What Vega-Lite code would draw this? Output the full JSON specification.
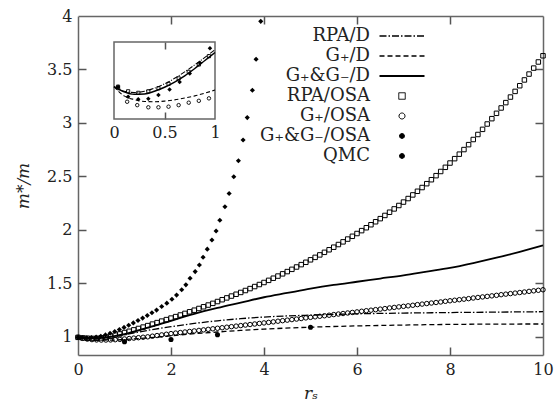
{
  "$schema": "https://vega.github.io/schema/vega-lite/v6.json",
  "width": 465,
  "height": 339,
  "autosize": "none",
  "padding": {"left": 78, "top": 16, "right": 13, "bottom": 54},
  "background": "white",
  "config": {
    "font": "DejaVu Serif",
    "view": {"stroke": null},
    "axis": {
      "domainColor": "#666", "domainWidth": 1.5, "labelFont": "DejaVu Serif", "labelFontSize": 16, "labelColor": "#222",
      "titleFont": "DejaVu Serif", "titleFontSize": 17, "titleFontStyle": "italic", "titleFontWeight": "normal",
      "titleColor": "#222", "grid": false, "labelOverlap": false, "labelFlush": false
    }
  },
  "datasets": {
    "main": [
      {"series":"RPA/D","rs":0,"m":0.995},{"series":"RPA/D","rs":0.25,"m":0.985},{"series":"RPA/D","rs":0.5,"m":0.99},{"series":"RPA/D","rs":0.75,"m":1.003},{"series":"RPA/D","rs":1,"m":1.02},{"series":"RPA/D","rs":1.5,"m":1.06},{"series":"RPA/D","rs":2,"m":1.095},{"series":"RPA/D","rs":2.5,"m":1.125},{"series":"RPA/D","rs":3,"m":1.15},{"series":"RPA/D","rs":3.5,"m":1.17},{"series":"RPA/D","rs":4,"m":1.185},{"series":"RPA/D","rs":5,"m":1.203},{"series":"RPA/D","rs":6,"m":1.215},{"series":"RPA/D","rs":7,"m":1.222},{"series":"RPA/D","rs":8,"m":1.227},{"series":"RPA/D","rs":9,"m":1.231},{"series":"RPA/D","rs":10,"m":1.235},
      {"series":"G₊/D","rs":0,"m":0.995},{"series":"G₊/D","rs":0.25,"m":0.978},{"series":"G₊/D","rs":0.5,"m":0.97},{"series":"G₊/D","rs":0.75,"m":0.969},{"series":"G₊/D","rs":1,"m":0.975},{"series":"G₊/D","rs":1.5,"m":0.99},{"series":"G₊/D","rs":2,"m":1.01},{"series":"G₊/D","rs":2.5,"m":1.03},{"series":"G₊/D","rs":3,"m":1.045},{"series":"G₊/D","rs":3.5,"m":1.06},{"series":"G₊/D","rs":4,"m":1.072},{"series":"G₊/D","rs":5,"m":1.09},{"series":"G₊/D","rs":6,"m":1.102},{"series":"G₊/D","rs":7,"m":1.11},{"series":"G₊/D","rs":8,"m":1.116},{"series":"G₊/D","rs":9,"m":1.119},{"series":"G₊/D","rs":10,"m":1.12},
      {"series":"G₊&G₋/D","rs":0,"m":0.995},{"series":"G₊&G₋/D","rs":0.25,"m":0.985},{"series":"G₊&G₋/D","rs":0.5,"m":0.99},{"series":"G₊&G₋/D","rs":0.75,"m":1.005},{"series":"G₊&G₋/D","rs":1,"m":1.025},{"series":"G₊&G₋/D","rs":1.5,"m":1.085},{"series":"G₊&G₋/D","rs":2,"m":1.15},{"series":"G₊&G₋/D","rs":2.5,"m":1.215},{"series":"G₊&G₋/D","rs":3,"m":1.27},{"series":"G₊&G₋/D","rs":3.5,"m":1.32},{"series":"G₊&G₋/D","rs":4,"m":1.37},{"series":"G₊&G₋/D","rs":4.5,"m":1.41},{"series":"G₊&G₋/D","rs":5,"m":1.45},{"series":"G₊&G₋/D","rs":5.5,"m":1.485},{"series":"G₊&G₋/D","rs":6,"m":1.515},{"series":"G₊&G₋/D","rs":6.5,"m":1.545},{"series":"G₊&G₋/D","rs":7,"m":1.575},{"series":"G₊&G₋/D","rs":7.5,"m":1.61},{"series":"G₊&G₋/D","rs":8,"m":1.645},{"series":"G₊&G₋/D","rs":8.5,"m":1.69},{"series":"G₊&G₋/D","rs":9,"m":1.74},{"series":"G₊&G₋/D","rs":9.5,"m":1.795},{"series":"G₊&G₋/D","rs":10,"m":1.855},
      {"series":"RPA/OSA","rs":0,"m":0.995},{"series":"RPA/OSA","rs":0.1,"m":0.99},{"series":"RPA/OSA","rs":0.2,"m":0.987},{"series":"RPA/OSA","rs":0.3,"m":0.985},{"series":"RPA/OSA","rs":0.4,"m":0.986},{"series":"RPA/OSA","rs":0.5,"m":0.99},{"series":"RPA/OSA","rs":0.6,"m":0.997},{"series":"RPA/OSA","rs":0.7,"m":1.006},{"series":"RPA/OSA","rs":0.8,"m":1.016},{"series":"RPA/OSA","rs":0.9,"m":1.027},
      {"series":"RPA/OSA","rs":1,"m":1.04},{"series":"RPA/OSA","rs":1.1,"m":1.052},{"series":"RPA/OSA","rs":1.2,"m":1.065},{"series":"RPA/OSA","rs":1.3,"m":1.078},{"series":"RPA/OSA","rs":1.4,"m":1.091},{"series":"RPA/OSA","rs":1.5,"m":1.105},{"series":"RPA/OSA","rs":1.6,"m":1.119},{"series":"RPA/OSA","rs":1.7,"m":1.133},{"series":"RPA/OSA","rs":1.8,"m":1.147},{"series":"RPA/OSA","rs":1.9,"m":1.161},
      {"series":"RPA/OSA","rs":2,"m":1.175},{"series":"RPA/OSA","rs":2.1,"m":1.189},{"series":"RPA/OSA","rs":2.2,"m":1.204},{"series":"RPA/OSA","rs":2.3,"m":1.219},{"series":"RPA/OSA","rs":2.4,"m":1.234},{"series":"RPA/OSA","rs":2.5,"m":1.249},{"series":"RPA/OSA","rs":2.6,"m":1.265},{"series":"RPA/OSA","rs":2.7,"m":1.281},{"series":"RPA/OSA","rs":2.8,"m":1.297},{"series":"RPA/OSA","rs":2.9,"m":1.313},
      {"series":"RPA/OSA","rs":3,"m":1.33},{"series":"RPA/OSA","rs":3.1,"m":1.347},{"series":"RPA/OSA","rs":3.2,"m":1.364},{"series":"RPA/OSA","rs":3.3,"m":1.381},{"series":"RPA/OSA","rs":3.4,"m":1.398},{"series":"RPA/OSA","rs":3.5,"m":1.415},{"series":"RPA/OSA","rs":3.6,"m":1.433},{"series":"RPA/OSA","rs":3.7,"m":1.451},{"series":"RPA/OSA","rs":3.8,"m":1.47},{"series":"RPA/OSA","rs":3.9,"m":1.489},
      {"series":"RPA/OSA","rs":4,"m":1.508},{"series":"RPA/OSA","rs":4.1,"m":1.528},{"series":"RPA/OSA","rs":4.2,"m":1.548},{"series":"RPA/OSA","rs":4.3,"m":1.568},{"series":"RPA/OSA","rs":4.4,"m":1.589},{"series":"RPA/OSA","rs":4.5,"m":1.61},{"series":"RPA/OSA","rs":4.6,"m":1.631},{"series":"RPA/OSA","rs":4.7,"m":1.653},{"series":"RPA/OSA","rs":4.8,"m":1.675},{"series":"RPA/OSA","rs":4.9,"m":1.697},
      {"series":"RPA/OSA","rs":5,"m":1.72},{"series":"RPA/OSA","rs":5.1,"m":1.743},{"series":"RPA/OSA","rs":5.2,"m":1.766},{"series":"RPA/OSA","rs":5.3,"m":1.79},{"series":"RPA/OSA","rs":5.4,"m":1.814},{"series":"RPA/OSA","rs":5.5,"m":1.838},{"series":"RPA/OSA","rs":5.6,"m":1.863},{"series":"RPA/OSA","rs":5.7,"m":1.888},{"series":"RPA/OSA","rs":5.8,"m":1.914},{"series":"RPA/OSA","rs":5.9,"m":1.94},
      {"series":"RPA/OSA","rs":6,"m":1.966},{"series":"RPA/OSA","rs":6.1,"m":1.993},{"series":"RPA/OSA","rs":6.2,"m":2.02},{"series":"RPA/OSA","rs":6.3,"m":2.048},{"series":"RPA/OSA","rs":6.4,"m":2.076},{"series":"RPA/OSA","rs":6.5,"m":2.105},{"series":"RPA/OSA","rs":6.6,"m":2.135},{"series":"RPA/OSA","rs":6.7,"m":2.165},{"series":"RPA/OSA","rs":6.8,"m":2.196},{"series":"RPA/OSA","rs":6.9,"m":2.228},
      {"series":"RPA/OSA","rs":7,"m":2.26},{"series":"RPA/OSA","rs":7.1,"m":2.293},{"series":"RPA/OSA","rs":7.2,"m":2.327},{"series":"RPA/OSA","rs":7.3,"m":2.361},{"series":"RPA/OSA","rs":7.4,"m":2.396},{"series":"RPA/OSA","rs":7.5,"m":2.432},{"series":"RPA/OSA","rs":7.6,"m":2.469},{"series":"RPA/OSA","rs":7.7,"m":2.507},{"series":"RPA/OSA","rs":7.8,"m":2.546},{"series":"RPA/OSA","rs":7.9,"m":2.585},
      {"series":"RPA/OSA","rs":8,"m":2.625},{"series":"RPA/OSA","rs":8.1,"m":2.666},{"series":"RPA/OSA","rs":8.2,"m":2.708},{"series":"RPA/OSA","rs":8.3,"m":2.751},{"series":"RPA/OSA","rs":8.4,"m":2.797},{"series":"RPA/OSA","rs":8.5,"m":2.845},{"series":"RPA/OSA","rs":8.6,"m":2.892},{"series":"RPA/OSA","rs":8.7,"m":2.94},{"series":"RPA/OSA","rs":8.8,"m":2.99},{"series":"RPA/OSA","rs":8.9,"m":3.04},
      {"series":"RPA/OSA","rs":9,"m":3.09},{"series":"RPA/OSA","rs":9.1,"m":3.14},{"series":"RPA/OSA","rs":9.2,"m":3.19},{"series":"RPA/OSA","rs":9.3,"m":3.242},{"series":"RPA/OSA","rs":9.4,"m":3.295},{"series":"RPA/OSA","rs":9.5,"m":3.348},{"series":"RPA/OSA","rs":9.6,"m":3.402},{"series":"RPA/OSA","rs":9.7,"m":3.457},{"series":"RPA/OSA","rs":9.8,"m":3.513},{"series":"RPA/OSA","rs":9.9,"m":3.57},{"series":"RPA/OSA","rs":10,"m":3.628},
      {"series":"G₊/OSA","rs":0,"m":0.995},{"series":"G₊/OSA","rs":0.1,"m":0.986},{"series":"G₊/OSA","rs":0.2,"m":0.979},{"series":"G₊/OSA","rs":0.3,"m":0.974},{"series":"G₊/OSA","rs":0.4,"m":0.971},{"series":"G₊/OSA","rs":0.5,"m":0.97},{"series":"G₊/OSA","rs":0.6,"m":0.97},{"series":"G₊/OSA","rs":0.7,"m":0.971},{"series":"G₊/OSA","rs":0.8,"m":0.973},{"series":"G₊/OSA","rs":0.9,"m":0.976},
      {"series":"G₊/OSA","rs":1,"m":0.98},{"series":"G₊/OSA","rs":1.1,"m":0.984},{"series":"G₊/OSA","rs":1.2,"m":0.988},{"series":"G₊/OSA","rs":1.3,"m":0.992},{"series":"G₊/OSA","rs":1.4,"m":0.996},{"series":"G₊/OSA","rs":1.5,"m":1.0},{"series":"G₊/OSA","rs":1.6,"m":1.006},{"series":"G₊/OSA","rs":1.7,"m":1.012},{"series":"G₊/OSA","rs":1.8,"m":1.018},{"series":"G₊/OSA","rs":1.9,"m":1.024},
      {"series":"G₊/OSA","rs":2,"m":1.03},{"series":"G₊/OSA","rs":2.1,"m":1.035},{"series":"G₊/OSA","rs":2.2,"m":1.04},{"series":"G₊/OSA","rs":2.3,"m":1.045},{"series":"G₊/OSA","rs":2.4,"m":1.05},{"series":"G₊/OSA","rs":2.5,"m":1.055},{"series":"G₊/OSA","rs":2.6,"m":1.06},{"series":"G₊/OSA","rs":2.7,"m":1.065},{"series":"G₊/OSA","rs":2.8,"m":1.07},{"series":"G₊/OSA","rs":2.9,"m":1.075},
      {"series":"G₊/OSA","rs":3,"m":1.08},{"series":"G₊/OSA","rs":3.1,"m":1.085},{"series":"G₊/OSA","rs":3.2,"m":1.09},{"series":"G₊/OSA","rs":3.3,"m":1.095},{"series":"G₊/OSA","rs":3.4,"m":1.1},{"series":"G₊/OSA","rs":3.5,"m":1.105},{"series":"G₊/OSA","rs":3.6,"m":1.11},{"series":"G₊/OSA","rs":3.7,"m":1.115},{"series":"G₊/OSA","rs":3.8,"m":1.12},{"series":"G₊/OSA","rs":3.9,"m":1.125},
      {"series":"G₊/OSA","rs":4,"m":1.13},{"series":"G₊/OSA","rs":4.1,"m":1.135},{"series":"G₊/OSA","rs":4.2,"m":1.14},{"series":"G₊/OSA","rs":4.3,"m":1.146},{"series":"G₊/OSA","rs":4.4,"m":1.151},{"series":"G₊/OSA","rs":4.5,"m":1.156},{"series":"G₊/OSA","rs":4.6,"m":1.161},{"series":"G₊/OSA","rs":4.7,"m":1.166},{"series":"G₊/OSA","rs":4.8,"m":1.171},{"series":"G₊/OSA","rs":4.9,"m":1.177},
      {"series":"G₊/OSA","rs":5,"m":1.182},{"series":"G₊/OSA","rs":5.1,"m":1.187},{"series":"G₊/OSA","rs":5.2,"m":1.192},{"series":"G₊/OSA","rs":5.3,"m":1.197},{"series":"G₊/OSA","rs":5.4,"m":1.202},{"series":"G₊/OSA","rs":5.5,"m":1.208},{"series":"G₊/OSA","rs":5.6,"m":1.213},{"series":"G₊/OSA","rs":5.7,"m":1.218},{"series":"G₊/OSA","rs":5.8,"m":1.223},{"series":"G₊/OSA","rs":5.9,"m":1.228},
      {"series":"G₊/OSA","rs":6,"m":1.233},{"series":"G₊/OSA","rs":6.1,"m":1.239},{"series":"G₊/OSA","rs":6.2,"m":1.244},{"series":"G₊/OSA","rs":6.3,"m":1.249},{"series":"G₊/OSA","rs":6.4,"m":1.254},{"series":"G₊/OSA","rs":6.5,"m":1.259},{"series":"G₊/OSA","rs":6.6,"m":1.264},{"series":"G₊/OSA","rs":6.7,"m":1.27},{"series":"G₊/OSA","rs":6.8,"m":1.275},{"series":"G₊/OSA","rs":6.9,"m":1.28},
      {"series":"G₊/OSA","rs":7,"m":1.285},{"series":"G₊/OSA","rs":7.1,"m":1.29},{"series":"G₊/OSA","rs":7.2,"m":1.295},{"series":"G₊/OSA","rs":7.3,"m":1.301},{"series":"G₊/OSA","rs":7.4,"m":1.306},{"series":"G₊/OSA","rs":7.5,"m":1.311},{"series":"G₊/OSA","rs":7.6,"m":1.316},{"series":"G₊/OSA","rs":7.7,"m":1.321},{"series":"G₊/OSA","rs":7.8,"m":1.326},{"series":"G₊/OSA","rs":7.9,"m":1.332},
      {"series":"G₊/OSA","rs":8,"m":1.337},{"series":"G₊/OSA","rs":8.1,"m":1.342},{"series":"G₊/OSA","rs":8.2,"m":1.347},{"series":"G₊/OSA","rs":8.3,"m":1.352},{"series":"G₊/OSA","rs":8.4,"m":1.357},{"series":"G₊/OSA","rs":8.5,"m":1.363},{"series":"G₊/OSA","rs":8.6,"m":1.368},{"series":"G₊/OSA","rs":8.7,"m":1.373},{"series":"G₊/OSA","rs":8.8,"m":1.378},{"series":"G₊/OSA","rs":8.9,"m":1.383},
      {"series":"G₊/OSA","rs":9,"m":1.388},{"series":"G₊/OSA","rs":9.1,"m":1.394},{"series":"G₊/OSA","rs":9.2,"m":1.399},{"series":"G₊/OSA","rs":9.3,"m":1.404},{"series":"G₊/OSA","rs":9.4,"m":1.409},{"series":"G₊/OSA","rs":9.5,"m":1.414},{"series":"G₊/OSA","rs":9.6,"m":1.419},{"series":"G₊/OSA","rs":9.7,"m":1.425},{"series":"G₊/OSA","rs":9.8,"m":1.43},{"series":"G₊/OSA","rs":9.9,"m":1.435},{"series":"G₊/OSA","rs":10,"m":1.44},
      {"series":"G₊&G₋/OSA","rs":0,"m":0.995},{"series":"G₊&G₋/OSA","rs":0.09,"m":0.991},{"series":"G₊&G₋/OSA","rs":0.19,"m":0.99},{"series":"G₊&G₋/OSA","rs":0.29,"m":0.993},{"series":"G₊&G₋/OSA","rs":0.39,"m":0.998},{"series":"G₊&G₋/OSA","rs":0.49,"m":1.006},{"series":"G₊&G₋/OSA","rs":0.59,"m":1.018},{"series":"G₊&G₋/OSA","rs":0.69,"m":1.033},{"series":"G₊&G₋/OSA","rs":0.79,"m":1.05},{"series":"G₊&G₋/OSA","rs":0.89,"m":1.068},
      {"series":"G₊&G₋/OSA","rs":0.99,"m":1.088},{"series":"G₊&G₋/OSA","rs":1.09,"m":1.108},{"series":"G₊&G₋/OSA","rs":1.19,"m":1.13},{"series":"G₊&G₋/OSA","rs":1.29,"m":1.152},{"series":"G₊&G₋/OSA","rs":1.39,"m":1.175},{"series":"G₊&G₋/OSA","rs":1.49,"m":1.2},{"series":"G₊&G₋/OSA","rs":1.59,"m":1.225},{"series":"G₊&G₋/OSA","rs":1.69,"m":1.25},{"series":"G₊&G₋/OSA","rs":1.8,"m":1.283},{"series":"G₊&G₋/OSA","rs":1.91,"m":1.315},
      {"series":"G₊&G₋/OSA","rs":2.02,"m":1.352},{"series":"G₊&G₋/OSA","rs":2.12,"m":1.39},{"series":"G₊&G₋/OSA","rs":2.23,"m":1.44},{"series":"G₊&G₋/OSA","rs":2.32,"m":1.486},{"series":"G₊&G₋/OSA","rs":2.41,"m":1.548},{"series":"G₊&G₋/OSA","rs":2.52,"m":1.61},{"series":"G₊&G₋/OSA","rs":2.61,"m":1.672},{"series":"G₊&G₋/OSA","rs":2.69,"m":1.744},{"series":"G₊&G₋/OSA","rs":2.78,"m":1.82},{"series":"G₊&G₋/OSA","rs":2.88,"m":1.906},
      {"series":"G₊&G₋/OSA","rs":2.97,"m":1.99},{"series":"G₊&G₋/OSA","rs":3.05,"m":2.09},{"series":"G₊&G₋/OSA","rs":3.16,"m":2.216},{"series":"G₊&G₋/OSA","rs":3.25,"m":2.34},{"series":"G₊&G₋/OSA","rs":3.35,"m":2.497},{"series":"G₊&G₋/OSA","rs":3.45,"m":2.646},{"series":"G₊&G₋/OSA","rs":3.55,"m":2.84},{"series":"G₊&G₋/OSA","rs":3.64,"m":3.05},{"series":"G₊&G₋/OSA","rs":3.75,"m":3.306},{"series":"G₊&G₋/OSA","rs":3.83,"m":3.596},{"series":"G₊&G₋/OSA","rs":3.93,"m":3.95},
      {"series":"QMC","rs":1,"m":0.955},{"series":"QMC","rs":2,"m":0.975},{"series":"QMC","rs":3,"m":1.02},{"series":"QMC","rs":5,"m":1.09}
    ],
    "inset": [
      {"series":"RPA/D","rs":0,"m":1.005},{"series":"RPA/D","rs":0.1,"m":0.99},{"series":"RPA/D","rs":0.2,"m":0.986},{"series":"RPA/D","rs":0.3,"m":0.99},{"series":"RPA/D","rs":0.4,"m":1.0},{"series":"RPA/D","rs":0.5,"m":1.014},{"series":"RPA/D","rs":0.6,"m":1.032},{"series":"RPA/D","rs":0.7,"m":1.053},{"series":"RPA/D","rs":0.8,"m":1.076},{"series":"RPA/D","rs":0.9,"m":1.1},{"series":"RPA/D","rs":1,"m":1.125},
      {"series":"G₊/D","rs":0,"m":1.005},{"series":"G₊/D","rs":0.1,"m":0.975},{"series":"G₊/D","rs":0.2,"m":0.963},{"series":"G₊/D","rs":0.3,"m":0.957},{"series":"G₊/D","rs":0.4,"m":0.956},{"series":"G₊/D","rs":0.5,"m":0.958},{"series":"G₊/D","rs":0.6,"m":0.962},{"series":"G₊/D","rs":0.7,"m":0.968},{"series":"G₊/D","rs":0.8,"m":0.975},{"series":"G₊/D","rs":0.9,"m":0.984},{"series":"G₊/D","rs":1,"m":0.994},
      {"series":"G₊&G₋/D","rs":0,"m":1.005},{"series":"G₊&G₋/D","rs":0.1,"m":0.988},{"series":"G₊&G₋/D","rs":0.2,"m":0.98},{"series":"G₊&G₋/D","rs":0.3,"m":0.981},{"series":"G₊&G₋/D","rs":0.4,"m":0.99},{"series":"G₊&G₋/D","rs":0.5,"m":1.003},{"series":"G₊&G₋/D","rs":0.6,"m":1.02},{"series":"G₊&G₋/D","rs":0.7,"m":1.04},{"series":"G₊&G₋/D","rs":0.8,"m":1.064},{"series":"G₊&G₋/D","rs":0.9,"m":1.09},{"series":"G₊&G₋/D","rs":1,"m":1.116},
      {"series":"RPA/OSA","rs":0.04,"m":1.005},{"series":"RPA/OSA","rs":0.14,"m":0.99},{"series":"RPA/OSA","rs":0.24,"m":0.985},{"series":"RPA/OSA","rs":0.34,"m":0.99},{"series":"RPA/OSA","rs":0.44,"m":1.0},{"series":"RPA/OSA","rs":0.54,"m":1.014},{"series":"RPA/OSA","rs":0.64,"m":1.032},{"series":"RPA/OSA","rs":0.74,"m":1.053},{"series":"RPA/OSA","rs":0.84,"m":1.077},{"series":"RPA/OSA","rs":0.94,"m":1.104},
      {"series":"G₊/OSA","rs":0.04,"m":1.0},{"series":"G₊/OSA","rs":0.13,"m":0.956},{"series":"G₊/OSA","rs":0.23,"m":0.945},{"series":"G₊/OSA","rs":0.34,"m":0.938},{"series":"G₊/OSA","rs":0.44,"m":0.938},{"series":"G₊/OSA","rs":0.54,"m":0.94},{"series":"G₊/OSA","rs":0.64,"m":0.945},{"series":"G₊/OSA","rs":0.74,"m":0.953},{"series":"G₊/OSA","rs":0.84,"m":0.959},{"series":"G₊/OSA","rs":0.94,"m":0.967},
      {"series":"G₊&G₋/OSA","rs":0.04,"m":1.005},{"series":"G₊&G₋/OSA","rs":0.14,"m":0.972},{"series":"G₊&G₋/OSA","rs":0.24,"m":0.964},{"series":"G₊&G₋/OSA","rs":0.34,"m":0.966},{"series":"G₊&G₋/OSA","rs":0.44,"m":0.978},{"series":"G₊&G₋/OSA","rs":0.55,"m":0.996},{"series":"G₊&G₋/OSA","rs":0.65,"m":1.02},{"series":"G₊&G₋/OSA","rs":0.75,"m":1.048},{"series":"G₊&G₋/OSA","rs":0.85,"m":1.083},{"series":"G₊&G₋/OSA","rs":0.95,"m":1.13}
    ]
  },
  "layer": [
    {
      "data": {"name": "main"},
      "transform": [{"filter": {"field": "series", "equal": "RPA/D"}}],
      "mark": {"type": "line", "interpolate": "monotone", "strokeWidth": 1.3, "strokeDash": [7, 2, 1.5, 2]},
      "encoding": {
        "x": {"field": "rs", "type": "quantitative", "scale": {"domain": [0, 10], "nice": false, "zero": false},
              "axis": {"orient": "bottom", "title": "rₛ", "values": [0, 2, 4, 6, 8, 10], "format": "d", "tickSize": 6, "tickColor": "#ffffff", "labelPadding": 0, "titlePadding": 8}},
        "y": {"field": "m", "type": "quantitative", "scale": {"domain": [0.83, 4], "nice": false, "zero": false},
              "axis": {"orient": "left", "title": "m*/m", "values": [1, 1.5, 2, 2.5, 3, 3.5, 4], "format": "~g", "tickSize": 6, "tickColor": "#ffffff", "labelPadding": 0, "titlePadding": 14}},
        "color": {"field": "series", "type": "nominal",
          "scale": {"domain": ["RPA/D", "G₊/D", "G₊&G₋/D", "RPA/OSA", "G₊/OSA", "G₊&G₋/OSA", "QMC"], "range": ["#000", "#000", "#000", "#000", "#000", "#000", "#000"]},
          "legend": {
            "orient": "none", "legendX": 292, "legendY": 11, "title": null, "direction": "vertical", "padding": 0,
            "labelFont": "DejaVu Serif", "labelFontSize": 18, "labelColor": "#222", "labelAlign": "right",
            "symbolSize": 25, "symbolStrokeWidth": 1.2, "rowPadding": 2, "labelLimit": 300,
            "encode": {
              "labels": {"update": {"x": {"value": 0}, "align": {"value": "right"}}},
              "symbols": {"update": {
                "x": {"value": 32},
                "shape": {"signal": "datum.index < 3 ? 'M-9,0H9' : (datum.index == 3 ? 'M-9,0M9,0M-1.3,-1.3H1.3V1.3H-1.3Z' : (datum.index == 4 ? 'M-9,0M9,0M-1.2,0A1.2,1.2,0,1,1,1.2,0A1.2,1.2,0,1,1,-1.2,0Z' : 'M-9,0M9,0M-1,0A1,1,0,1,1,1,0A1,1,0,1,1,-1,0Z'))"},
                "size": {"value": 25},
                "strokeDash": {"signal": "datum.index == 0 ? [7,2,1.5,2] : (datum.index == 1 ? [5,3] : [1,0])"},
                "fill": {"signal": "datum.index >= 5 ? '#000' : '#fff'"},
                "fillOpacity": {"signal": "datum.index >= 5 ? 1 : 0"},
                "stroke": {"value": "#000"},
                "strokeWidth": {"signal": "datum.index == 2 ? 2 : (datum.index < 2 ? 1.3 : 1)"}
              }}
            }
          }}
      }
    },
    {
      "data": {"name": "main"},
      "transform": [{"filter": {"field": "series", "equal": "G₊/D"}}],
      "mark": {"type": "line", "interpolate": "monotone", "strokeWidth": 1.3, "strokeDash": [5, 3]},
      "encoding": {
        "x": {"field": "rs", "type": "quantitative", "scale": {"domain": [0, 10], "nice": false, "zero": false},
              "axis": {"orient": "top", "offset": -339, "title": null, "labels": false, "domain": false, "tickSize": 8, "tickColor": "#555", "tickWidth": 1.5, "values": [2, 4, 6, 8]}},
        "y": {"field": "m", "type": "quantitative", "scale": {"domain": [0.83, 4], "nice": false, "zero": false},
              "axis": {"orient": "right", "offset": -465, "title": null, "labels": false, "domain": false, "tickSize": 8, "tickColor": "#555", "tickWidth": 1.5, "values": [1, 1.5, 2, 2.5, 3, 3.5]}},
        "color": {"field": "series", "type": "nominal"}
      }
    },
    {
      "data": {"name": "main"},
      "transform": [{"filter": {"field": "series", "equal": "G₊&G₋/D"}}],
      "mark": {"type": "line", "interpolate": "monotone", "strokeWidth": 1.8},
      "encoding": {
        "x": {"field": "rs", "type": "quantitative", "scale": {"domain": [0, 10], "nice": false, "zero": false},
              "axis": {"orient": "bottom", "offset": -339, "title": null, "labels": false, "tickSize": 8, "tickColor": "#555", "tickWidth": 1.5, "values": [2, 4, 6, 8]}},
        "y": {"field": "m", "type": "quantitative", "scale": {"domain": [0.83, 4], "nice": false, "zero": false},
              "axis": {"orient": "left", "offset": -465, "title": null, "labels": false, "tickSize": 8, "tickColor": "#555", "tickWidth": 1.5, "values": [1, 1.5, 2, 2.5, 3, 3.5]}},
        "color": {"field": "series", "type": "nominal"}
      }
    },
    {
      "data": {"name": "main"},
      "transform": [{"filter": {"field": "series", "equal": "RPA/OSA"}}],
      "mark": {"type": "point", "shape": "square", "filled": false, "size": 20, "strokeWidth": 1, "opacity": 1},
      "encoding": {
        "x": {"field": "rs", "type": "quantitative", "scale": {"domain": [0, 10], "nice": false, "zero": false}, "axis": null},
        "y": {"field": "m", "type": "quantitative", "scale": {"domain": [0.83, 4], "nice": false, "zero": false}, "axis": null},
        "color": {"field": "series", "type": "nominal"}
      }
    },
    {
      "data": {"name": "main"},
      "transform": [{"filter": {"field": "series", "equal": "G₊/OSA"}}],
      "mark": {"type": "point", "shape": "circle", "filled": false, "size": 20, "strokeWidth": 1, "opacity": 1},
      "encoding": {
        "x": {"field": "rs", "type": "quantitative", "scale": {"domain": [0, 10], "nice": false, "zero": false}, "axis": null},
        "y": {"field": "m", "type": "quantitative", "scale": {"domain": [0.83, 4], "nice": false, "zero": false}, "axis": null},
        "color": {"field": "series", "type": "nominal"}
      }
    },
    {
      "data": {"name": "main"},
      "transform": [{"filter": {"field": "series", "equal": "G₊&G₋/OSA"}}],
      "mark": {"type": "point", "shape": "diamond", "filled": true, "size": 26, "opacity": 1},
      "encoding": {
        "x": {"field": "rs", "type": "quantitative", "scale": {"domain": [0, 10], "nice": false, "zero": false}, "axis": null},
        "y": {"field": "m", "type": "quantitative", "scale": {"domain": [0.83, 4], "nice": false, "zero": false}, "axis": null},
        "color": {"field": "series", "type": "nominal"}
      }
    },
    {
      "data": {"name": "main"},
      "transform": [{"filter": {"field": "series", "equal": "QMC"}}],
      "mark": {"type": "point", "shape": "circle", "filled": true, "size": 26, "opacity": 1},
      "encoding": {
        "x": {"field": "rs", "type": "quantitative", "scale": {"domain": [0, 10], "nice": false, "zero": false}, "axis": null},
        "y": {"field": "m", "type": "quantitative", "scale": {"domain": [0.83, 4], "nice": false, "zero": false}, "axis": null},
        "color": {"field": "series", "type": "nominal"}
      }
    },
    {
      "data": {"values": [{"frame": 1}]},
      "mark": {"type": "rect", "fill": null, "stroke": "#666", "strokeWidth": 1.5},
      "encoding": {
        "x": {"datum": 0, "type": "quantitative", "scale": {"domain": [0, 1], "range": [36, 137], "nice": false, "zero": false},
              "axis": {"orient": "bottom", "offset": -236, "title": null, "values": [0, 0.5, 1], "format": "~g", "domain": false, "tickSize": 5, "tickColor": "#ffffff", "labelPadding": 0}},
        "x2": {"datum": 1},
        "y": {"datum": 0.9, "type": "quantitative", "scale": {"domain": [0.9, 1.15], "range": [103, 26], "nice": false, "zero": false}, "axis": null},
        "y2": {"datum": 1.15}
      }
    },
    {
      "data": {"name": "inset"},
      "transform": [{"filter": {"field": "series", "equal": "RPA/D"}}],
      "mark": {"type": "line", "interpolate": "monotone", "strokeWidth": 1.1, "strokeDash": [5, 1.5, 1, 1.5], "color": "#000"},
      "encoding": {
        "x": {"field": "rs", "type": "quantitative", "scale": {"domain": [0, 1], "range": [36, 137], "nice": false, "zero": false},
              "axis": {"orient": "top", "offset": -103, "title": null, "labels": false, "values": [0.5], "domain": false, "tickSize": 7, "tickColor": "#555", "tickWidth": 1.5}},
        "y": {"field": "m", "type": "quantitative", "scale": {"domain": [0.9, 1.15], "range": [103, 26], "nice": false, "zero": false}, "axis": null}
      }
    },
    {
      "data": {"name": "inset"},
      "transform": [{"filter": {"field": "series", "equal": "G₊/D"}}],
      "mark": {"type": "line", "interpolate": "monotone", "strokeWidth": 1.1, "strokeDash": [4, 2.5], "color": "#000"},
      "encoding": {
        "x": {"field": "rs", "type": "quantitative", "scale": {"domain": [0, 1], "range": [36, 137], "nice": false, "zero": false},
              "axis": {"orient": "bottom", "offset": -313, "title": null, "labels": false, "values": [0.5], "domain": false, "tickSize": 7, "tickColor": "#555", "tickWidth": 1.5}},
        "y": {"field": "m", "type": "quantitative", "scale": {"domain": [0.9, 1.15], "range": [103, 26], "nice": false, "zero": false}, "axis": null}
      }
    },
    {
      "data": {"name": "inset"},
      "transform": [{"filter": {"field": "series", "equal": "G₊&G₋/D"}}],
      "mark": {"type": "line", "interpolate": "monotone", "strokeWidth": 1.5, "color": "#000"},
      "encoding": {
        "x": {"field": "rs", "type": "quantitative", "scale": {"domain": [0, 1], "range": [36, 137], "nice": false, "zero": false}, "axis": null},
        "y": {"field": "m", "type": "quantitative", "scale": {"domain": [0.9, 1.15], "range": [103, 26], "nice": false, "zero": false}, "axis": null}
      }
    },
    {
      "data": {"name": "inset"},
      "transform": [{"filter": {"field": "series", "equal": "RPA/OSA"}}],
      "mark": {"type": "point", "shape": "square", "filled": false, "size": 10, "strokeWidth": 0.9, "color": "#000", "opacity": 1},
      "encoding": {
        "x": {"field": "rs", "type": "quantitative", "scale": {"domain": [0, 1], "range": [36, 137], "nice": false, "zero": false}, "axis": null},
        "y": {"field": "m", "type": "quantitative", "scale": {"domain": [0.9, 1.15], "range": [103, 26], "nice": false, "zero": false}, "axis": null}
      }
    },
    {
      "data": {"name": "inset"},
      "transform": [{"filter": {"field": "series", "equal": "G₊/OSA"}}],
      "mark": {"type": "point", "shape": "circle", "filled": false, "size": 12, "strokeWidth": 0.9, "color": "#000", "opacity": 1},
      "encoding": {
        "x": {"field": "rs", "type": "quantitative", "scale": {"domain": [0, 1], "range": [36, 137], "nice": false, "zero": false}, "axis": null},
        "y": {"field": "m", "type": "quantitative", "scale": {"domain": [0.9, 1.15], "range": [103, 26], "nice": false, "zero": false}, "axis": null}
      }
    },
    {
      "data": {"name": "inset"},
      "transform": [{"filter": {"field": "series", "equal": "G₊&G₋/OSA"}}],
      "mark": {"type": "point", "shape": "diamond", "filled": true, "size": 20, "color": "#000", "opacity": 1},
      "encoding": {
        "x": {"field": "rs", "type": "quantitative", "scale": {"domain": [0, 1], "range": [36, 137], "nice": false, "zero": false}, "axis": null},
        "y": {"field": "m", "type": "quantitative", "scale": {"domain": [0.9, 1.15], "range": [103, 26], "nice": false, "zero": false}, "axis": null}
      }
    }
  ],
  "resolve": {"scale": {"x": "independent", "y": "independent"}, "axis": {"x": "independent", "y": "independent"}}
}
